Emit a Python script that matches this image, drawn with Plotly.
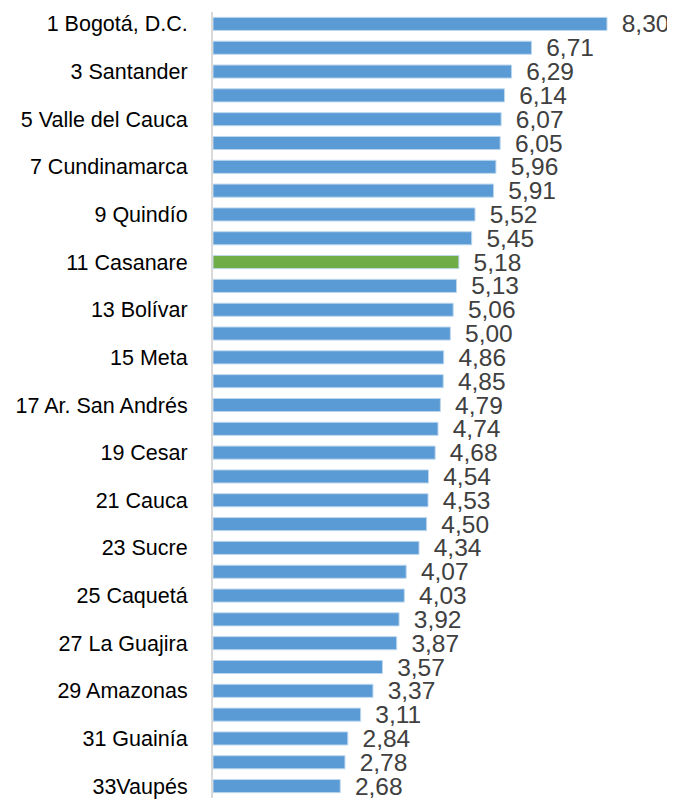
import plotly.graph_objects as go

# Data ---------------------------------------------------------------------------
ranks = list(range(1, 34))
names = ["1 Bogotá, D.C.", "", "3 Santander", "", "5 Valle del Cauca", "",
         "7 Cundinamarca", "", "9 Quindío", "", "11 Casanare", "", "13 Bolívar", "",
         "15 Meta", "", "17 Ar. San Andrés", "", "19 Cesar", "", "21 Cauca", "",
         "23 Sucre", "", "25 Caquetá", "", "27 La Guajira", "", "29 Amazonas", "",
         "31 Guainía", "", "33Vaupés"]
values = [8.30, 6.71, 6.29, 6.14, 6.07, 6.05, 5.96, 5.91, 5.52, 5.45, 5.18,
          5.13, 5.06, 5.00, 4.86, 4.85, 4.79, 4.74, 4.68, 4.54, 4.53, 4.50,
          4.34, 4.07, 4.03, 3.92, 3.87, 3.57, 3.37, 3.11, 2.84, 2.78, 2.68]
highlight = "11 Casanare"

colors = ["#70AD47" if n == highlight else "#5B9BD5" for n in names]
font = "Liberation Sans, Arial"

# Chart --------------------------------------------------------------------------
fig = go.Figure(go.Bar(
    x=values,
    y=ranks,
    orientation="h",
    marker=dict(color=colors, line=dict(color="#BDD7EE", width=1)),
    texttemplate="\u00a0\u2009%{x:.2f}",
    textposition="outside",
    constraintext="none",
    cliponaxis=False,
    textfont=dict(family=font, size=24.5, color="#404040"),
))

# page body adds ~8px offset, so margins are trimmed accordingly
fig.update_layout(
    width=675, height=804,
    margin=dict(l=205, r=18, t=4, b=14, autoexpand=False),
    plot_bgcolor="white", paper_bgcolor="white",
    separators=",.",
    bargap=0.45,
    showlegend=False,
)
fig.update_xaxes(range=[0, 452 / 47.47], visible=False)
fig.update_yaxes(
    tickvals=ranks, ticktext=names,
    range=[33.5, 0.5],
    automargin=False,
    showline=True, linecolor="#D9D9D9", linewidth=2,
    showgrid=False, zeroline=False, ticks="",
    ticklabelstandoff=19,
    tickfont=dict(family=font, size=21.5, color="#000000"),
)

fig.write_html("out.html")
